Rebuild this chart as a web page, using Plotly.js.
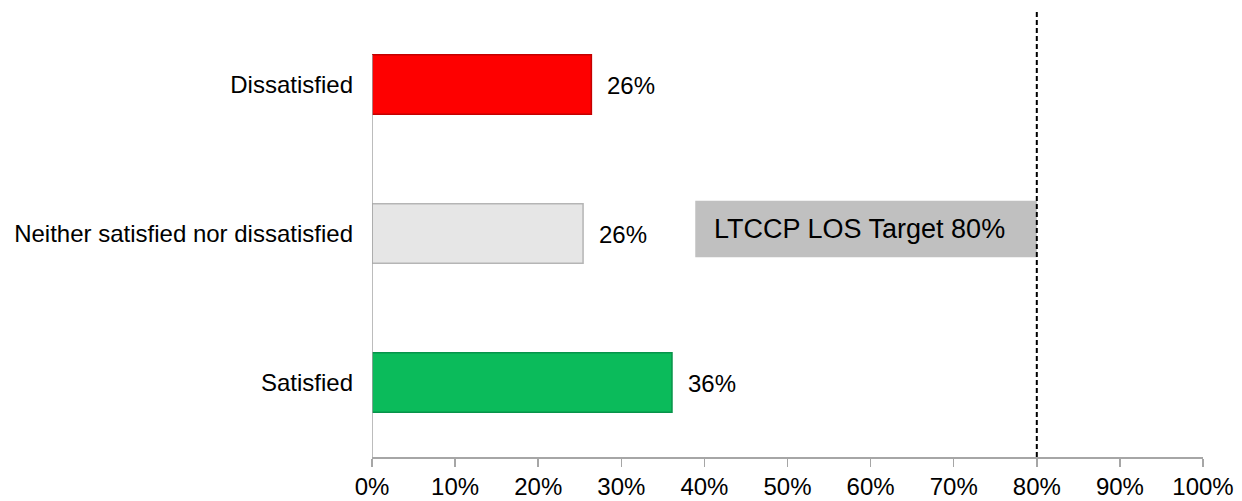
<!DOCTYPE html>
<html>
<head>
<meta charset="utf-8">
<script src="https://cdn.plot.ly/plotly-3.0.1.min.js"></script>
<style>html,body{margin:0;padding:0;background:#fff;}#chart{width:1242px;height:501px;}</style>
</head>
<body>
<div id="chart"></div>
<script>
// Data (bottom to top)
const categories = ["Satisfied", "Neither satisfied nor dissatisfied", "Dissatisfied"];
const values = [0.361, 0.254, 0.264];
const valueLabels = ["36%", "26%", "26%"];
const barColors = ["#0bbb5b", "#e6e6e6", "#fe0000"];
const barEdgeColors = ["#07934a", "#b5b5b5", "#c40000"];
const xTickVals = [0, 0.1, 0.2, 0.3, 0.4, 0.5, 0.6, 0.7, 0.8, 0.9, 1.0];
const xTickText = ["0%", "10%", "20%", "30%", "40%", "50%", "60%", "70%", "80%", "90%", "100%"];
const targetValue = 0.8;
const targetLabel = "LTCCP LOS Target 80%";

const FONT = "Liberation Sans, Arial, sans-serif";
const AXIS_GREY = "#a6a6a6";

const trace = {
  type: "bar",
  orientation: "h",
  y: categories,
  x: values,
  marker: { color: barColors, line: { color: barEdgeColors, width: 1.5 } },
  hoverinfo: "none"
};

const labelAnnotations = categories.map((c, i) => ({
  x: values[i], y: c, xref: "x", yref: "y",
  text: valueLabels[i], showarrow: false,
  xanchor: "left", yanchor: "middle", xshift: 14, yshift: -1,
  font: { family: FONT, size: 24, color: "#000" }
}));

// boundaries between categories for y ticks
const boundaries = [-0.5, 0.5, 1.5];
const yTickShapes = boundaries.map(b => ({
  type: "line", xref: "x", yref: "y",
  xsizemode: "pixel", xanchor: 0, x0: -8, x1: 0,
  y0: b, y1: b,
  line: { color: AXIS_GREY, width: 1.5 }
}));

const layout = {
  width: 1242, height: 501,
  margin: { l: 372, r: 39, t: 10, b: 44 },
  paper_bgcolor: "#fff", plot_bgcolor: "#fff",
  showlegend: false,
  bargap: 0.6,
  font: { family: FONT, size: 24, color: "#000" },
  xaxis: {
    range: [0, 1],
    tickvals: xTickVals, ticktext: xTickText,
    showgrid: false, zeroline: false,
    showline: true, linecolor: AXIS_GREY, linewidth: 1.5,
    ticks: "outside", ticklen: 8, tickcolor: AXIS_GREY, tickwidth: 1.5,
    tickfont: { family: FONT, size: 24, color: "#000" },
    fixedrange: true
  },
  yaxis: {
    type: "category",
    categoryorder: "array", categoryarray: categories,
    range: [-0.5, 2.5],
    showgrid: false, zeroline: false, showline: false,
    ticks: "", ticklabelstandoff: 18,
    tickfont: { family: FONT, size: 24, color: "#000" },
    fixedrange: true
  },
  shapes: [
    // y axis line, from bottom to top of the top bar
    { type: "line", xref: "x", yref: "y", x0: 0, x1: 0, y0: -0.5, y1: 2.2,
      line: { color: AXIS_GREY, width: 1.5 } },
    ...yTickShapes,
    // target box
    { type: "rect", xref: "x", yref: "y", x0: 0.389, x1: targetValue, y0: 0.84, y1: 1.22,
      fillcolor: "#c0c0c0", line: { width: 0 }, layer: "below" },
    // target line
    { type: "line", xref: "x", yref: "paper", x0: targetValue, x1: targetValue, y0: 0, y1: 1,
      line: { color: "#000", width: 2, dash: "5px,3px" } }
  ],
  annotations: [
    ...labelAnnotations,
    { x: 0.389, y: 1.03, xref: "x", yref: "y", text: targetLabel, showarrow: false,
      xanchor: "left", yanchor: "middle", xshift: 17,
      font: { family: FONT, size: 27, color: "#000" } }
  ]
};

Plotly.newPlot("chart", [trace], layout, { displayModeBar: false, staticPlot: true });
</script>
</body>
</html>
